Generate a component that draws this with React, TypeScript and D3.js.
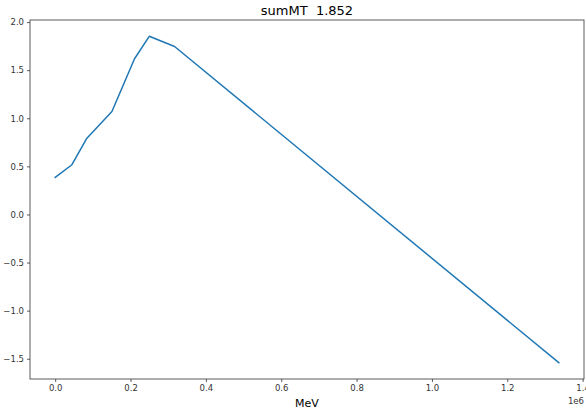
import React, { useEffect, useRef } from 'react';
import * as d3 from 'd3';

// energy values, in units of 1e6
const energy = [0, 0.0444, 0.0842, 0.1506, 0.2106, 0.2497, 0.3169, 1.3368];
const sumMT = [0.385, 0.517, 0.793, 1.071, 1.619, 1.852, 1.746, -1.541];
const xTicks = [0, 0.2, 0.4, 0.6, 0.8, 1.0, 1.2, 1.4];
const yTicks = [-1.5, -1.0, -0.5, 0, 0.5, 1.0, 1.5, 2.0];
const titleText = 'sumMT  1.852';
const xLabel = 'MeV';

const W = 586;
const H = 410;
const margin = { top: 20, right: 2, bottom: 31, left: 30 };

const fmt = (v: number) => d3.format('.1f')(v).replace('-', '\u2212');

export default function App() {
  const svgRef = useRef<SVGSVGElement>(null);

  useEffect(() => {
    document.body.style.margin = '0';
    if (!svgRef.current) return;
    const svg = d3.select(svgRef.current);
    svg.selectAll('*').remove();

    const iw = W - margin.left - margin.right;
    const ih = H - margin.top - margin.bottom;

    // matplotlib style 5% margins
    const [x0, x1] = d3.extent(energy) as [number, number];
    const [y0, y1] = d3.extent(sumMT) as [number, number];
    const dx = (x1 - x0) * 0.05;
    const dy = (y1 - y0) * 0.05;
    const x = d3.scaleLinear().domain([x0 - dx, x1 + dx]).range([0, iw]);
    const y = d3.scaleLinear().domain([y0 - dy, y1 + dy]).range([ih, 0]);

    const g = svg.append('g').attr('transform', `translate(${margin.left},${margin.top})`);

    const line = d3.line<number>()
      .x((_, i) => x(energy[i]))
      .y((d) => y(d));

    g.append('path')
      .datum(sumMT)
      .attr('d', line)
      .attr('fill', 'none')
      .attr('stroke', '#1f77b4')
      .attr('stroke-width', 1.5)
      .attr('stroke-linejoin', 'round')
      .attr('stroke-linecap', 'square');

    const xAxis = g.append('g')
      .attr('transform', `translate(0,${ih})`)
      .call(d3.axisBottom(x).tickValues(xTicks).tickFormat((d) => fmt(+d)).tickSize(3).tickPadding(3));
    const yAxis = g.append('g')
      .call(d3.axisLeft(y).tickValues(yTicks).tickFormat((d) => fmt(+d)).tickSize(3).tickPadding(3));

    [xAxis, yAxis].forEach((ax) => {
      ax.select('.domain').remove();
      ax.selectAll('line').attr('stroke', '#333').attr('stroke-width', 0.8);
      ax.selectAll('text')
        .attr('fill', '#333')
        .attr('font-family', 'DejaVu Sans')
        .attr('font-size', 8.5);
    });

    g.append('rect')
      .attr('width', iw)
      .attr('height', ih)
      .attr('fill', 'none')
      .attr('stroke', '#333')
      .attr('stroke-width', 0.8);

    svg.append('text')
      .attr('x', margin.left + iw / 2)
      .attr('y', margin.top - 5)
      .attr('text-anchor', 'middle')
      .attr('font-family', 'DejaVu Sans')
      .attr('font-size', 13)
      .attr('fill', '#000')
      .style('white-space', 'pre')
      .text(titleText);

    svg.append('text')
      .attr('x', margin.left + iw / 2)
      .attr('y', H - 3)
      .attr('text-anchor', 'middle')
      .attr('font-family', 'DejaVu Sans')
      .attr('font-size', 11)
      .attr('fill', '#000')
      .text(xLabel);

    svg.append('text')
      .attr('x', margin.left + iw)
      .attr('y', H - 6)
      .attr('text-anchor', 'end')
      .attr('font-family', 'DejaVu Sans')
      .attr('font-size', 8.5)
      .attr('fill', '#333')
      .text('1e6');
  }, []);

  return <svg ref={svgRef} width={W} height={H} style={{ display: 'block', background: '#fff' }} />;
}
